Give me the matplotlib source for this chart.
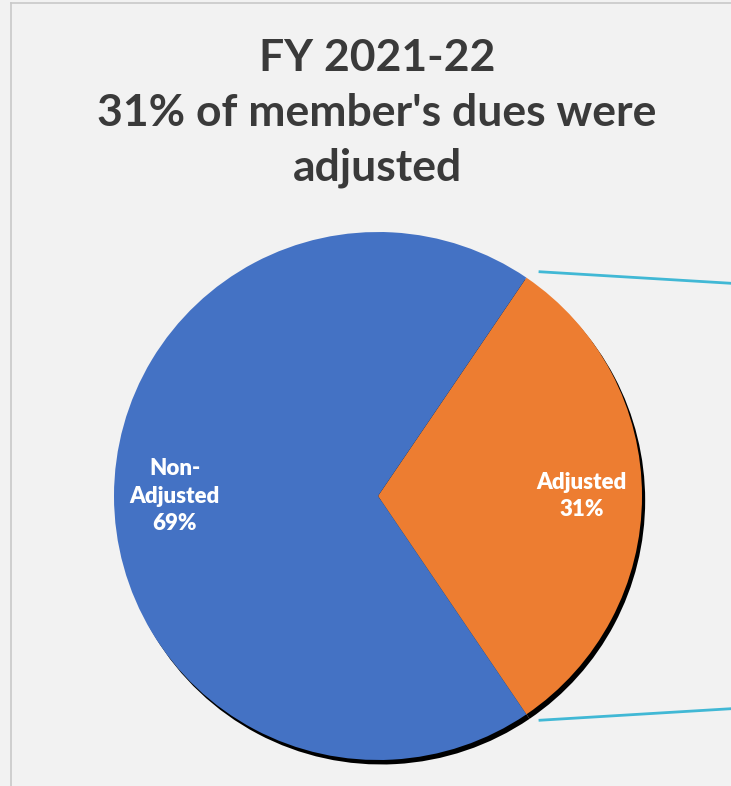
import matplotlib.pyplot as plt
import numpy as np
from matplotlib.lines import Line2D

# data
labels = ["Adjusted", "Non-\nAdjusted"]
shares = [31, 69]
colors = ["#ed7d31", "#4472c4"]
title_lines = ["FY 2021-22", "31% of member's dues were", "adjusted"]

plt.rcParams['font.family'] = ['Lato', 'DejaVu Sans']

W, H = 731, 786
fig = plt.figure(figsize=(W / 100, H / 100), dpi=100, facecolor="#f2f2f2")

# frame lines of the chart area (left and top edges)
fig.add_artist(Line2D([11 / W, 11 / W], [0, 1 - 3 / H], color="#c8c8c8", lw=1.2))
fig.add_artist(Line2D([11 / W, 1], [1 - 3 / H, 1 - 3 / H], color="#c8c8c8", lw=1.2))

# pie axes: center at (378, 496) px, radius 264 px
cx, cy, R, half = 378, 496, 264, 280
ax = fig.add_axes([(cx - half) / W, (H - cy - half) / H, 2 * half / W, 2 * half / H])

start = -shares[0] / 100 * 360 / 2

# shadow
ax.pie(shares, colors=["black", "black"], startangle=start, radius=1.0,
       center=(0.012, -0.017), wedgeprops=dict(linewidth=0), frame=True)
wedges, _ = ax.pie(shares, colors=colors, startangle=start, radius=1.0,
                   wedgeprops=dict(linewidth=0), frame=True)
ax.set_xlim(-half / R, half / R)
ax.set_ylim(-half / R, half / R)
ax.set_aspect("equal")
ax.axis("off")

for w, lab, val in zip(wedges, labels, shares):
    ang = np.deg2rad((w.theta1 + w.theta2) / 2)
    ax.text(0.77 * np.cos(ang), 0.77 * np.sin(ang), f"{lab}\n{val}%",
            ha="center", va="center", color="white", fontsize=16,
            fontweight="heavy", linespacing=1.4)

# connector lines from the adjusted slice edges
for edge in [wedges[0].theta2, wedges[0].theta1]:
    a = np.deg2rad(edge + (-1.4 if edge > 0 else 1.4))
    x0, y0 = 1.045 * np.cos(a), 1.045 * np.sin(a)
    x1 = (W - cx) / R + 0.05
    y1 = y0 - np.sign(y0) * 0.047
    ax.plot([x0, x1], [y0, y1], color="#41b8d5", lw=2, clip_on=False,
            solid_capstyle="butt")

# title
for i, line in enumerate(title_lines):
    fig.text(377 / W, 1 - (58 + 55 * i) / H, line, ha="center", va="center",
             fontsize=32, fontweight="bold", color="#3a3a3a")

fig.savefig("out.png", dpi=100, facecolor=fig.get_facecolor())
